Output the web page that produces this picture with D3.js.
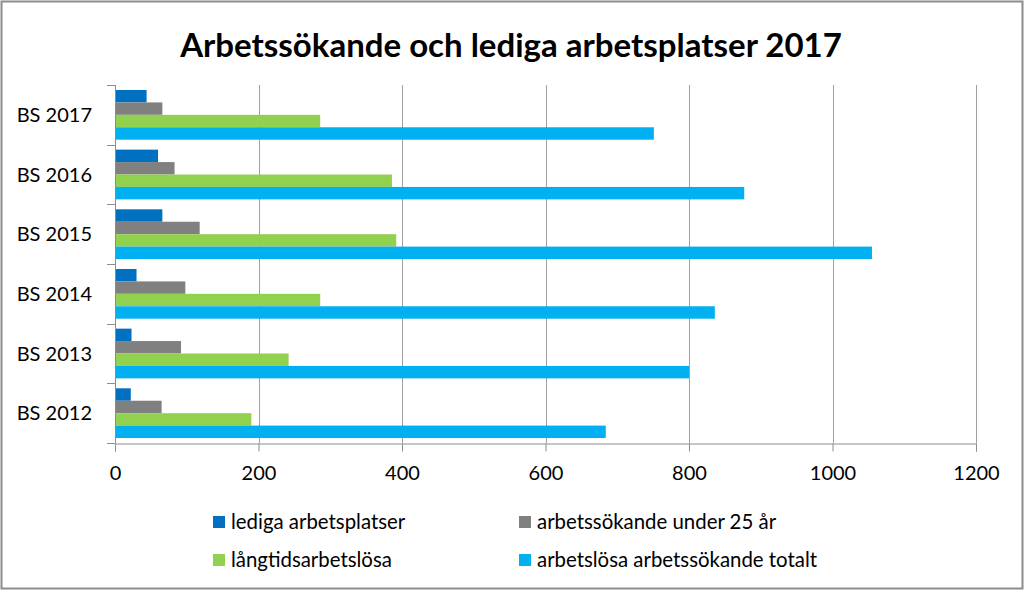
<!DOCTYPE html>
<html>
<head>
<meta charset="utf-8">
<script src="https://cdn.jsdelivr.net/npm/d3@7"></script>
<style>
  html, body { margin: 0; padding: 0; background: #fff; }
  svg { display: block; }
  text { font-family: Lato, "Open Sans", sans-serif; fill: #000; }
</style>
</head>
<body>
<svg id="chart" width="1024" height="590"></svg>
<script>
const title = "Arbetssökande och lediga arbetsplatser 2017";
const categories = ["BS 2017", "BS 2016", "BS 2015", "BS 2014", "BS 2013", "BS 2012"];
const seriesNames = ["lediga arbetsplatser", "arbetssökande under 25 år", "långtidsarbetslösa", "arbetslösa arbetssökande totalt"];
const seriesColors = ["#0070C0", "#808080", "#92D050", "#00B0F0"];
const ledigaArbetsplatser = [44, 60, 66, 30, 23, 22];
const arbetssokandeUnder25 = [66, 83, 118, 98, 92, 65];
const langtidsarbetslosa = [286, 386, 392, 286, 242, 190];
const arbetslosaTotalt = [751, 877, 1055, 836, 800, 684];
const xTicks = [0, 200, 400, 600, 800, 1000, 1200];

const seriesValues = [ledigaArbetsplatser, arbetssokandeUnder25, langtidsarbetslosa, arbetslosaTotalt];

const svg = d3.select("#chart");
const W = 1024, H = 590;

// outer border
svg.append("rect")
  .attr("x", 1.5).attr("y", 1.5)
  .attr("width", W - 3).attr("height", H - 3)
  .attr("fill", "#fff").attr("stroke", "#8c8c8c").attr("stroke-width", 2);

const plot = { left: 115, right: 976, top: 85, bottom: 443 };

const x = d3.scaleLinear().domain([0, 1200]).range([plot.left, plot.right]);
const y = d3.scaleBand().domain(categories).range([plot.top, plot.bottom])
  .paddingInner(1/6).paddingOuter(1/12);
const yInner = d3.scaleBand().domain(seriesNames).range([0, y.bandwidth()]).padding(0);

// title
svg.append("text")
  .attr("x", 511).attr("y", 57)
  .attr("text-anchor", "middle")
  .style("font-weight", "bold")
  .style("font-size", "33px")
  .text(title);

// gridlines
svg.append("g").selectAll("line")
  .data(xTicks.filter(d => d > 0))
  .join("line")
  .attr("x1", d => Math.round(x(d)) + 0.5).attr("x2", d => Math.round(x(d)) + 0.5)
  .attr("y1", plot.top).attr("y2", plot.bottom)
  .attr("stroke", "#a0a0a0").attr("stroke-width", 1);

// bars
const groups = svg.append("g").selectAll("g")
  .data(categories)
  .join("g")
  .attr("transform", d => `translate(0,${y(d)})`);

groups.selectAll("rect")
  .data((c, i) => seriesNames.map((s, j) => ({ s, j, v: seriesValues[j][i] })))
  .join("rect")
  .attr("x", x(0))
  .attr("y", d => yInner(d.s))
  .attr("width", d => x(d.v) - x(0))
  .attr("height", yInner.bandwidth())
  .attr("fill", d => seriesColors[d.j]);

// x axis
const xAxis = d3.axisBottom(x).tickValues(xTicks).tickSize(8).tickPadding(14).tickFormat(d3.format("d"));
const gx = svg.append("g").attr("transform", `translate(0,${plot.bottom + 0.5})`).call(xAxis);
gx.select(".domain").attr("stroke", "#8c8c8c");
gx.selectAll(".tick line").attr("stroke", "#8c8c8c");
gx.selectAll(".tick text").style("font-size", "20px").style("font-family", "Lato, sans-serif").attr("fill", "#000");

// y axis: ticks at band boundaries
const yBoundaries = categories.map(c => y(c) - y.step() * y.paddingInner() / 2).concat([plot.bottom]);
svg.append("line")
  .attr("x1", plot.left + 0.5).attr("x2", plot.left + 0.5)
  .attr("y1", plot.top).attr("y2", plot.bottom)
  .attr("stroke", "#8c8c8c");
svg.append("g").selectAll("line")
  .data(yBoundaries)
  .join("line")
  .attr("x1", plot.left - 8).attr("x2", plot.left)
  .attr("y1", d => Math.round(d) + 0.5).attr("y2", d => Math.round(d) + 0.5)
  .attr("stroke", "#8c8c8c");

svg.append("g").selectAll("text")
  .data(categories)
  .join("text")
  .attr("x", 92)
  .attr("y", d => y(d) + y.bandwidth() / 2)
  .attr("dy", "0.35em")
  .attr("text-anchor", "end")
  .style("font-size", "20px")
  .text(d => d);

// legend
const legendPos = [
  { x: 213, y: 522 }, { x: 519, y: 522 },
  { x: 213, y: 560 }, { x: 519, y: 560 }
];
const lg = svg.append("g").selectAll("g")
  .data(seriesNames)
  .join("g")
  .attr("transform", (d, i) => `translate(${legendPos[i].x},${legendPos[i].y})`);
lg.append("rect")
  .attr("x", 0).attr("y", -6).attr("width", 12).attr("height", 12)
  .attr("fill", (d, i) => seriesColors[i]);
lg.append("text")
  .attr("x", 18).attr("y", 0).attr("dy", "0.35em")
  .style("font-size", "20.4px")
  .text(d => d);
</script>
</body>
</html>
